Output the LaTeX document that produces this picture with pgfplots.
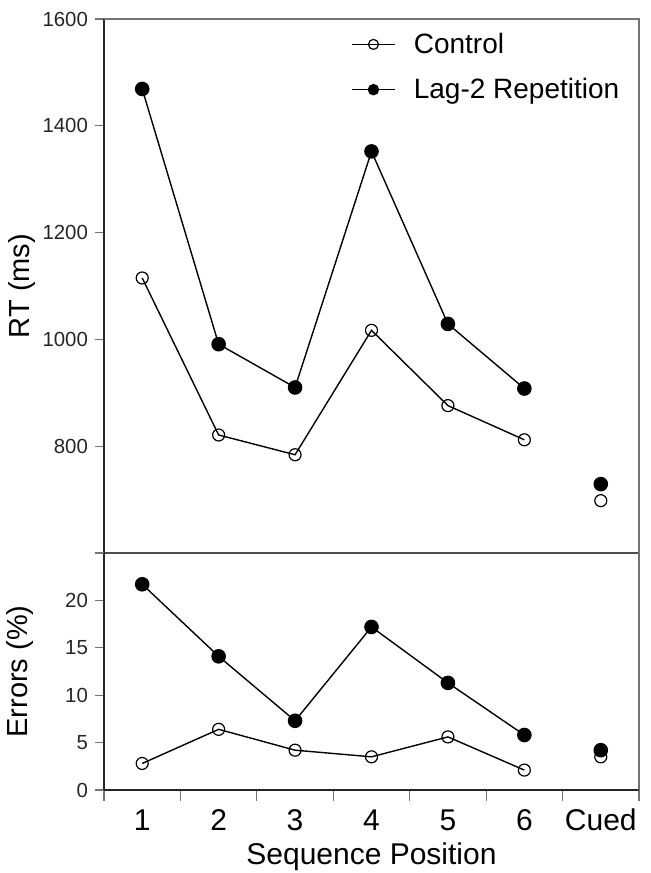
\documentclass[border=0pt]{standalone}
\usepackage{fontspec}
\setmainfont{Liberation Sans}
\usepackage{pgfplots}
\pgfplotsset{compat=1.18}
\begin{document}
\begin{tikzpicture}
\pgfplotsset{
  myaxis/.style={
    scale only axis, width=267.5pt,
    xmin=0.5, xmax=7.5,
    axis lines=left,
    axis line style={-, line width=1pt, black!85},
    tick align=outside,
    tick pos=left,
    major tick length=4.5pt,
    ytick style={black!55, line width=0.6pt},
    /pgf/number format/assume math mode=true,
    yticklabel style={font=\fontsize{10.2}{12}\selectfont, text=black!85},
    ylabel style={font=\fontsize{14.5}{17}\selectfont},
    clip=false,
  },
  ctrl/.style={black, line width=0.7pt, mark=o, mark size=3pt, mark options={fill=white, line width=0.6pt}},
  lag/.style={black, line width=0.7pt, mark=*, mark size=3.3pt, mark options={fill=black}},
}
% Top panel: RT
\begin{axis}[myaxis,
  at={(0,118.5pt)}, anchor=south west, height=267pt,
  ymin=600, ymax=1600,
  ytick={600,800,...,1600}, yticklabels={,800,1000,1200,1400,1600},
  xtick=\empty,
  x axis line style={line width=0.8pt, black!70},
  ylabel={RT (ms)},
  ylabel style={at={(axis description cs:-0.153,0.5)}, anchor=center},
  legend style={at={(rel axis cs:0.45,0.99)}, anchor=north west, draw=none, fill=none,
    font=\fontsize{14}{16}\selectfont, row sep=7pt, column sep=7pt},
  legend cell align=left,
  legend image code/.code={\draw[mark repeat=2,mark phase=2,#1,mark size=2.5pt] plot coordinates {(0cm,0cm) (0.38cm,0cm) (0.76cm,0cm)};},
]
\addplot[ctrl] coordinates {(1,1115) (2,821) (3,784) (4,1017) (5,876) (6,812)};
\addlegendentry{Control}
\addplot[lag] coordinates {(1,1469) (2,991) (3,910) (4,1352) (5,1029) (6,908)};
\addlegendentry{Lag-2 Repetition}
\addplot[ctrl, forget plot] coordinates {(7,698)};
\addplot[lag, forget plot] coordinates {(7,729)};
\draw[black!55, line width=0.8pt] (rel axis cs:0,1) -- (rel axis cs:1,1) -- (rel axis cs:1,0);
\end{axis}
% Bottom panel: Errors
\begin{axis}[myaxis,
  at={(0,0)}, anchor=south west, height=118.5pt,
  ymin=0, ymax=25,
  ytick={0,5,...,25}, yticklabels={0,5,10,15,20,},
  xtick={1,...,7}, xticklabels={1,2,3,4,5,6,Cued},
  minor xtick={0.5,1.5,...,7.5},
  minor tick length=5.5pt,
  major x tick style={draw=none},
  minor x tick style={black!55, line width=0.6pt},
  xticklabel style={font=\fontsize{15}{18}\selectfont, text=black, anchor=north, text height=10.8pt, text depth=0pt, yshift=-1.5pt},
  xlabel={Sequence Position},
  xlabel style={at={(axis description cs:0.5,-0.283)}, anchor=center, font=\fontsize{15}{18}\selectfont},
  ylabel={Errors (\%)},
  ylabel style={at={(axis description cs:-0.157,0.5)}, anchor=center},
]
\addplot[ctrl] coordinates {(1,2.8) (2,6.4) (3,4.2) (4,3.5) (5,5.6) (6,2.1)};
\addplot[lag] coordinates {(1,21.7) (2,14.1) (3,7.3) (4,17.2) (5,11.3) (6,5.8)};
\addplot[lag] coordinates {(7,4.2)};
\addplot[ctrl] coordinates {(7,3.5)};
\draw[black!55, line width=0.8pt] (rel axis cs:1,1) -- (rel axis cs:1,0);
\end{axis}
\pgfresetboundingbox
\useasboundingbox (-52pt,-41.5pt) rectangle (273pt,395pt);
\end{tikzpicture}
\end{document}
